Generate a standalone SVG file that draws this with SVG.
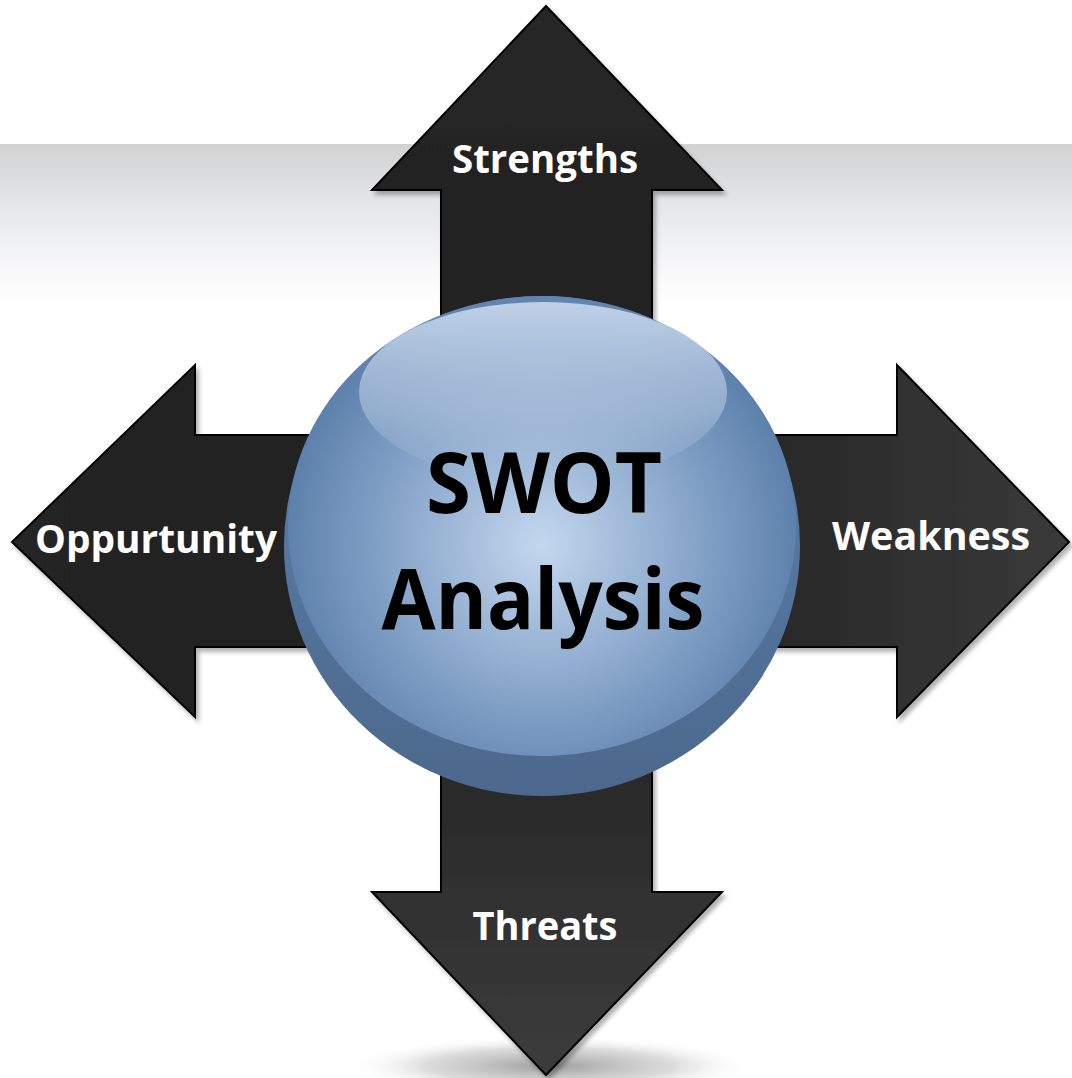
<svg xmlns="http://www.w3.org/2000/svg" width="1072" height="1078" viewBox="0 0 1072 1078">
<defs>
<linearGradient id="band" x1="0" y1="0" x2="0" y2="1">
<stop offset="0" stop-color="#d2d2d2"/>
<stop offset="0.4" stop-color="#e6e7ea"/>
<stop offset="0.8" stop-color="#f9f9fa"/>
<stop offset="1" stop-color="#ffffff"/>
</linearGradient>
<radialGradient id="floorShadow" cx="0.5" cy="0.5" r="0.5">
<stop offset="0" stop-color="#8c8c8c" stop-opacity="0.85"/>
<stop offset="0.6" stop-color="#b0b0b0" stop-opacity="0.45"/>
<stop offset="1" stop-color="#ffffff" stop-opacity="0"/>
</radialGradient>
<linearGradient id="gUp" x1="0" y1="0" x2="0" y2="1">
<stop offset="0" stop-color="#282828"/>
<stop offset="1" stop-color="#1a1a1a"/>
</linearGradient>
<linearGradient id="gDown" x1="0" y1="0" x2="0" y2="1">
<stop offset="0" stop-color="#1a1a1a"/>
<stop offset="1" stop-color="#3c3c3c"/>
</linearGradient>
<linearGradient id="gRight" x1="0" y1="0" x2="1" y2="0">
<stop offset="0" stop-color="#1a1a1a"/>
<stop offset="1" stop-color="#3a3a3a"/>
</linearGradient>
<linearGradient id="gLeft" x1="0" y1="0" x2="1" y2="0">
<stop offset="0" stop-color="#252525"/>
<stop offset="1" stop-color="#1e1e1e"/>
</linearGradient>
<linearGradient id="rim" x1="0" y1="0" x2="0" y2="1">
<stop offset="0" stop-color="#5f84b0"/>
<stop offset="1" stop-color="#4c688c"/>
</linearGradient>
<radialGradient id="ball" cx="542" cy="545" r="260" gradientUnits="userSpaceOnUse">
<stop offset="0" stop-color="#c4d7ee"/>
<stop offset="0.55" stop-color="#8aa7cb"/>
<stop offset="1" stop-color="#5b80ab"/>
</radialGradient>
<linearGradient id="gloss" x1="0" y1="0" x2="0" y2="1">
<stop offset="0" stop-color="#c0d1e7" stop-opacity="1"/>
<stop offset="0.6" stop-color="#b0c4de" stop-opacity="0.6"/>
<stop offset="1" stop-color="#a6bcd8" stop-opacity="0"/>
</linearGradient>
<filter id="drop" x="-10%" y="-10%" width="125%" height="125%">
<feDropShadow dx="3" dy="4" stdDeviation="2" flood-color="#000" flood-opacity="0.3"/>
</filter>
</defs>
<style>
.arrow{stroke:#000;stroke-width:2;stroke-linejoin:miter}
.lbl{font-family:"Open Sans","Liberation Sans",sans-serif;font-weight:700;fill:#fff;font-size:39px;text-anchor:middle}
.core{font-family:"Open Sans","Liberation Sans",sans-serif;font-weight:700;fill:#000;font-size:84px;text-anchor:middle}
</style>
<rect x="0" y="144" width="1072" height="160" fill="url(#band)"/>
<ellipse cx="550" cy="1066" rx="205" ry="30" fill="url(#floorShadow)"/>
<g id="strengths" filter="url(#drop)">
<path class="arrow" fill="url(#gUp)" d="M546,6 L722,190 L652,190 L652,546 L441,546 L441,190 L372,190 Z"/>
</g>
<g id="threats" filter="url(#drop)">
<path class="arrow" fill="url(#gDown)" d="M546,1075 L722,892 L652,892 L652,546 L441,546 L441,892 L372,892 Z"/>
</g>
<g id="opportunity" filter="url(#drop)">
<path class="arrow" fill="url(#gLeft)" d="M12,542 L195,365 L195,435 L542,435 L542,647 L195,647 L195,717 Z"/>
</g>
<g id="weakness" filter="url(#drop)">
<path class="arrow" fill="url(#gRight)" d="M1069,542 L897,365 L897,435 L542,435 L542,647 L897,647 L897,717 Z"/>
</g>
<g id="swot">
<ellipse cx="542" cy="546" rx="258" ry="250" fill="url(#rim)"/>
<ellipse cx="542" cy="526" rx="254" ry="230" fill="url(#ball)"/>
<ellipse cx="543" cy="392" rx="184" ry="90" fill="url(#gloss)"/>
<text class="core" x="544" y="513" textLength="236" lengthAdjust="spacingAndGlyphs">SWOT</text>
<text class="core" x="543" y="629" textLength="323" lengthAdjust="spacingAndGlyphs">Analysis</text>
</g>
<g id="labels">
<text class="lbl" x="545" y="173" textLength="186" lengthAdjust="spacingAndGlyphs">Strengths</text>
<text class="lbl" x="156" y="553" textLength="242" lengthAdjust="spacingAndGlyphs">Oppurtunity</text>
<text class="lbl" x="931" y="550" textLength="198" lengthAdjust="spacingAndGlyphs">Weakness</text>
<text class="lbl" x="545" y="940" textLength="145" lengthAdjust="spacingAndGlyphs">Threats</text>
</g>
</svg>
